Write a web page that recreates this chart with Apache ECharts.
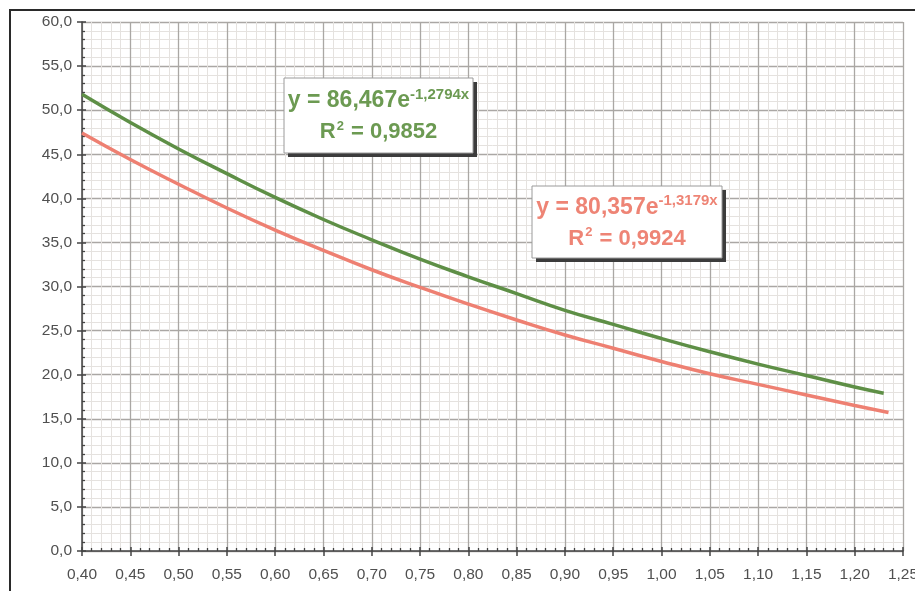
<!DOCTYPE html>
<html>
<head>
<meta charset="utf-8">
<title>Exponential trendlines</title>
<script src="https://cdn.jsdelivr.net/npm/echarts@6/dist/echarts.min.js"></script>
<style>
  html, body { margin: 0; padding: 0; background: #ffffff; }
  #chart { width: 915px; height: 591px; }
</style>
</head>
<body>
<div id="chart"></div>
<script>
// x positions of the sampled points
const xGreen = [0.40, 0.45, 0.50, 0.55, 0.60, 0.65, 0.70, 0.75, 0.80, 0.85, 0.90, 0.95, 1.00, 1.05, 1.10, 1.15, 1.20, 1.23];
const yGreen = [51.8, 48.6, 45.6, 42.8, 40.1, 37.6, 35.3, 33.1, 31.1, 29.2, 27.3, 25.7, 24.1, 22.6, 21.2, 19.9, 18.6, 17.9];

const xRed = [0.40, 0.45, 0.50, 0.55, 0.60, 0.65, 0.70, 0.75, 0.80, 0.85, 0.90, 0.95, 1.00, 1.05, 1.10, 1.15, 1.20, 1.235];
const yRed = [47.4, 44.4, 41.6, 38.9, 36.4, 34.1, 31.9, 29.9, 28.0, 26.2, 24.5, 23.0, 21.5, 20.1, 18.9, 17.7, 16.5, 15.7];

// axis ranges and tick spacing
const xMin = 0.40, xMax = 1.25, xStep = 0.05;
const yMin = 0, yMax = 60, yStep = 5;

// trendline equations shown in the boxes
const greenEq = { coef: '86,467', exp: '-1,2794x', r2: '0,9852' };
const redEq = { coef: '80,357', exp: '-1,3179x', r2: '0,9924' };

const GREEN_LINE = '#5e8f46';
const RED_LINE = '#ee8072';
const GREEN_TEXT = '#6c9a52';
const RED_TEXT = '#ee8475';
const FONT = '"Liberation Sans", Arial, sans-serif';

const pairs = (xs, ys) => xs.map((x, i) => [x, ys[i]]);
const comma = (v, d) => v.toFixed(d).replace('.', ',');

const chart = echarts.init(document.getElementById('chart'));

function eqBox(x, y, w, h, eq, color) {
  return {
    type: 'group',
    children: [
      { type: 'rect', shape: { x: x + 4, y: y + 4, width: w, height: h },
        style: { fill: '#3c3c3c' }, z: 10 },
      { type: 'rect', shape: { x: x, y: y, width: w, height: h },
        style: { fill: '#ffffff', stroke: '#9a9a9a', lineWidth: 1 }, z: 11 },
      { type: 'text', x: x + w / 2, y: y + h / 2 + 1, z: 12,
        style: {
          text: '{b1|y = ' + eq.coef + 'e}{s|' + eq.exp + '}\n{b|R}{s2|2}{b| = ' + eq.r2 + '}',
          align: 'center', verticalAlign: 'middle',
          rich: {
            b1: { fontFamily: FONT, fontWeight: 'bold', fontSize: 23, fill: color, lineHeight: 31 },
            b: { fontFamily: FONT, fontWeight: 'bold', fontSize: 22, fill: color, lineHeight: 31 },
            s: { fontFamily: FONT, fontWeight: 'bold', fontSize: 15, fill: color, lineHeight: 31, padding: [0, 0, 13, 0] },
            s2: { fontFamily: FONT, fontWeight: 'bold', fontSize: 13, fill: color, lineHeight: 31, padding: [0, 1, 12, 1] }
          }
        } }
    ]
  };
}

const labelStyle = { color: '#505050', fontSize: 15.5, fontFamily: FONT };

chart.setOption({
  backgroundColor: '#ffffff',
  animation: false,
  grid: { left: 82, right: 12, top: 22, bottom: 40, outerBoundsMode: 'none', containLabel: false },
  xAxis: [
    {
      type: 'value', min: xMin, max: xMax, interval: xStep,
      axisLine: { show: true, onZero: false, lineStyle: { color: '#444', width: 1.5 } },
      axisTick: { show: true, inside: false, length: 5, lineStyle: { color: '#444', width: 1.5 } },
      axisLabel: Object.assign({ margin: 16, formatter: v => comma(v, 2), showMaxLabel: true, hideOverlap: false }, labelStyle),
      splitLine: { show: true, lineStyle: { color: '#aaa7a4', width: 1.3 } },
      minorTick: { show: false, splitNumber: 5 },
      minorSplitLine: { show: true, lineStyle: { color: '#e5e2df', width: 1 } }
    },
    {
      type: 'value', min: xMin, max: xMax, interval: xStep, position: 'bottom',
      axisLine: { show: false, onZero: false },
      axisTick: { show: true, inside: true, length: 4, lineStyle: { color: '#444', width: 1.5 } },
      axisLabel: { show: false },
      splitLine: { show: false },
      minorTick: { show: true, splitNumber: 5, length: 3, lineStyle: { color: '#444', width: 1.3 } }
    }
  ],
  yAxis: [
    {
      type: 'value', min: yMin, max: yMax, interval: yStep,
      axisLine: { show: true, onZero: false, lineStyle: { color: '#444', width: 1.5 } },
      axisTick: { show: true, inside: false, length: 5, lineStyle: { color: '#444', width: 1.5 } },
      axisLabel: Object.assign({ margin: 10, formatter: v => comma(v, 1) }, labelStyle),
      splitLine: { show: true, lineStyle: { color: '#aaa7a4', width: 1.3 } },
      minorTick: { show: false, splitNumber: 5 },
      minorSplitLine: { show: true, lineStyle: { color: '#e5e2df', width: 1 } }
    },
    {
      type: 'value', min: yMin, max: yMax, interval: yStep, position: 'left',
      axisLine: { show: false, onZero: false },
      axisTick: { show: true, inside: true, length: 4, lineStyle: { color: '#444', width: 1.5 } },
      axisLabel: { show: false },
      splitLine: { show: false },
      minorTick: { show: true, splitNumber: 5, length: 3, lineStyle: { color: '#444', width: 1.3 } }
    }
  ],
  series: [
    {
      name: 'green', type: 'line', xAxisIndex: 0, yAxisIndex: 0,
      data: pairs(xGreen, yGreen), smooth: true, showSymbol: false, symbol: 'none',
      lineStyle: { color: GREEN_LINE, width: 3.5 }, z: 5
    },
    {
      name: 'red', type: 'line', xAxisIndex: 0, yAxisIndex: 0,
      data: pairs(xRed, yRed), smooth: true, showSymbol: false, symbol: 'none',
      lineStyle: { color: RED_LINE, width: 3.5 }, z: 4
    }
  ],
  graphic: [
    // outer frame of the chart area
    { type: 'rect', shape: { x: 10, y: 10, width: 1000, height: 1000 },
      style: { fill: 'none', stroke: '#2a2a2a', lineWidth: 2 }, z: 1 },
    eqBox(284, 78, 189, 75, greenEq, GREEN_TEXT),
    eqBox(532, 186, 190, 72, redEq, RED_TEXT)
  ]
});
</script>
</body>
</html>
